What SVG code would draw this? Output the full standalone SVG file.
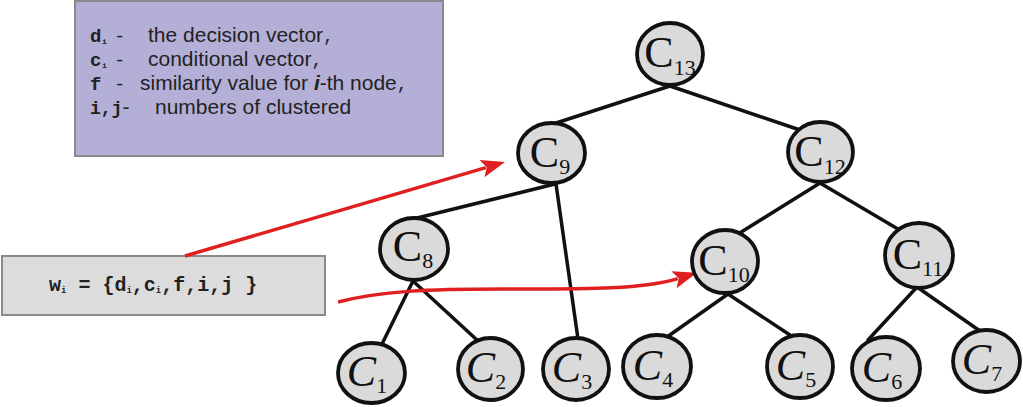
<svg xmlns="http://www.w3.org/2000/svg" width="1023" height="407" viewBox="0 0 1023 407">
<style>
.bg{fill:#ffffff}
.legend{fill:#b4afd7;stroke:#8a8a8a;stroke-width:2}
.wbox{fill:#dcdcdc;stroke:#8a8a8a;stroke-width:2}
.mono{font-family:"Liberation Mono","Courier New",monospace;font-weight:bold;fill:#222}
.monor{font-family:"Liberation Mono","Courier New",monospace;fill:#222}
.sans{font-family:"Liberation Sans",Arial,sans-serif;fill:#222}
.edge{stroke:#111;stroke-width:3.5;fill:none;stroke-linecap:round}
.red{stroke:#e02020;stroke-width:3.5;fill:none}
.node ellipse{fill:#dadada;stroke:#111;stroke-width:3.8}
.node text{font-family:"Liberation Serif","Times New Roman",serif;font-size:44px;fill:#111;text-anchor:middle}
.node text tspan{font-size:22px}
.leaf text{font-style:italic}
.leaf text tspan{font-style:normal}
</style>
<defs>
<marker id="ah" markerUnits="userSpaceOnUse" markerWidth="24" markerHeight="20" viewBox="0 0 24 20" refX="4" refY="10" orient="auto">
<path d="M0,1 L24,10 L0,19 L5,10 z" fill="#e02020"/>
</marker>
</defs>
<rect class="bg" x="0" y="0" width="1023" height="407"/>

<g id="legend">
<rect class="legend" x="75" y="1" width="368" height="155"/>
<text y="42"><tspan class="mono" x="90" font-size="19">d</tspan><tspan class="mono" x="102" dy="2" font-size="8">i</tspan><tspan class="monor" x="114" dy="-2" font-size="19">-</tspan><tspan class="sans" x="148" font-size="21">the decision vector</tspan><tspan class="monor" font-size="18">,</tspan></text>
<text y="66"><tspan class="mono" x="90" font-size="19">c</tspan><tspan class="mono" x="102" dy="2" font-size="8">i</tspan><tspan class="monor" x="114" dy="-2" font-size="19">-</tspan><tspan class="sans" x="148" font-size="21">conditional vector</tspan><tspan class="monor" font-size="18">,</tspan></text>
<text y="90"><tspan class="mono" x="90" font-size="19">f</tspan><tspan class="monor" x="114" font-size="19">-</tspan><tspan class="sans" x="140" font-size="21">similarity value for </tspan><tspan class="sans" font-size="21" font-weight="bold" font-style="italic">i</tspan><tspan class="sans" font-size="21">-th node</tspan><tspan class="monor" font-size="18">,</tspan></text>
<text y="114"><tspan class="mono" x="90" font-size="18">i,j</tspan><tspan class="sans" font-size="21">-</tspan><tspan class="sans" x="155" font-size="21">numbers of clustered</tspan></text>
</g>

<g id="wvector">
<rect class="wbox" x="2" y="256" width="323" height="59"/>
<text class="mono" x="49" y="291" font-size="20">w<tspan font-size="9" dy="2">i</tspan><tspan dy="-2"> = {d</tspan><tspan font-size="9" dy="2">i</tspan><tspan dy="-2">,c</tspan><tspan font-size="9" dy="2">i</tspan><tspan dy="-2">,f,i,j }</tspan></text>
</g>

<g id="connectors">
<line class="edge" x1="670" y1="86" x2="553" y2="124"/>
<line class="edge" x1="670" y1="86" x2="800" y2="130"/>
<line class="edge" x1="555" y1="184" x2="413" y2="219"/>
<line class="edge" x1="556" y1="184" x2="578" y2="339"/>
<line class="edge" x1="413" y1="281" x2="382" y2="344"/>
<line class="edge" x1="413" y1="281" x2="477" y2="340"/>
<line class="edge" x1="820" y1="183" x2="738" y2="234"/>
<line class="edge" x1="820" y1="183" x2="903" y2="232"/>
<line class="edge" x1="728" y1="294" x2="667" y2="337"/>
<line class="edge" x1="728" y1="294" x2="793" y2="337"/>
<line class="edge" x1="917" y1="287" x2="868" y2="340"/>
<line class="edge" x1="917" y1="287" x2="980" y2="331"/>
<path class="red" d="M185,256 L485.8,167.6" marker-end="url(#ah)"/>
<path class="red" d="M338,302 C380,291 430,289 500,289 C580,289 640,290 677.8,278.6" marker-end="url(#ah)"/>
</g>

<g id="C13" class="node"><ellipse cx="670" cy="54" rx="33" ry="31"/><text x="670" y="67">C<tspan dy="8">13</tspan></text></g>
<g id="C9" class="node"><ellipse cx="551.5" cy="153" rx="33.5" ry="30"/><text x="550" y="167">C<tspan dy="7">9</tspan></text></g>
<g id="C12" class="node"><ellipse cx="820.5" cy="152" rx="32.5" ry="30"/><text x="820" y="166">C<tspan dy="8">12</tspan></text></g>
<g id="C8" class="node"><ellipse cx="414" cy="249" rx="34" ry="31"/><text x="413" y="261">C<tspan dy="7">8</tspan></text></g>
<g id="C10" class="node"><ellipse cx="725" cy="261.5" rx="33" ry="31.5"/><text x="724" y="275">C<tspan dy="7">10</tspan></text></g>
<g id="C11" class="node"><ellipse cx="919" cy="255.5" rx="34" ry="32.5"/><text x="918" y="269">C<tspan dy="7">11</tspan></text></g>
<g id="C1" class="node leaf"><ellipse cx="371.5" cy="373" rx="33.5" ry="30"/><text x="367" y="386">C<tspan dy="7">1</tspan></text></g>
<g id="C2" class="node leaf"><ellipse cx="490.5" cy="369" rx="32.5" ry="31"/><text x="486" y="382">C<tspan dy="7">2</tspan></text></g>
<g id="C3" class="node leaf"><ellipse cx="576" cy="369" rx="33" ry="31"/><text x="572" y="382">C<tspan dy="7">3</tspan></text></g>
<g id="C4" class="node leaf"><ellipse cx="657" cy="366.5" rx="34" ry="31.5"/><text x="653" y="380">C<tspan dy="7">4</tspan></text></g>
<g id="C5" class="node leaf"><ellipse cx="800" cy="366.5" rx="33" ry="31.5"/><text x="796" y="380">C<tspan dy="7">5</tspan></text></g>
<g id="C6" class="node leaf"><ellipse cx="886" cy="368.5" rx="34" ry="31.5"/><text x="882" y="382">C<tspan dy="7">6</tspan></text></g>
<g id="C7" class="node leaf"><ellipse cx="986.5" cy="361" rx="33.5" ry="31"/><text x="982" y="374">C<tspan dy="7">7</tspan></text></g>
</svg>
